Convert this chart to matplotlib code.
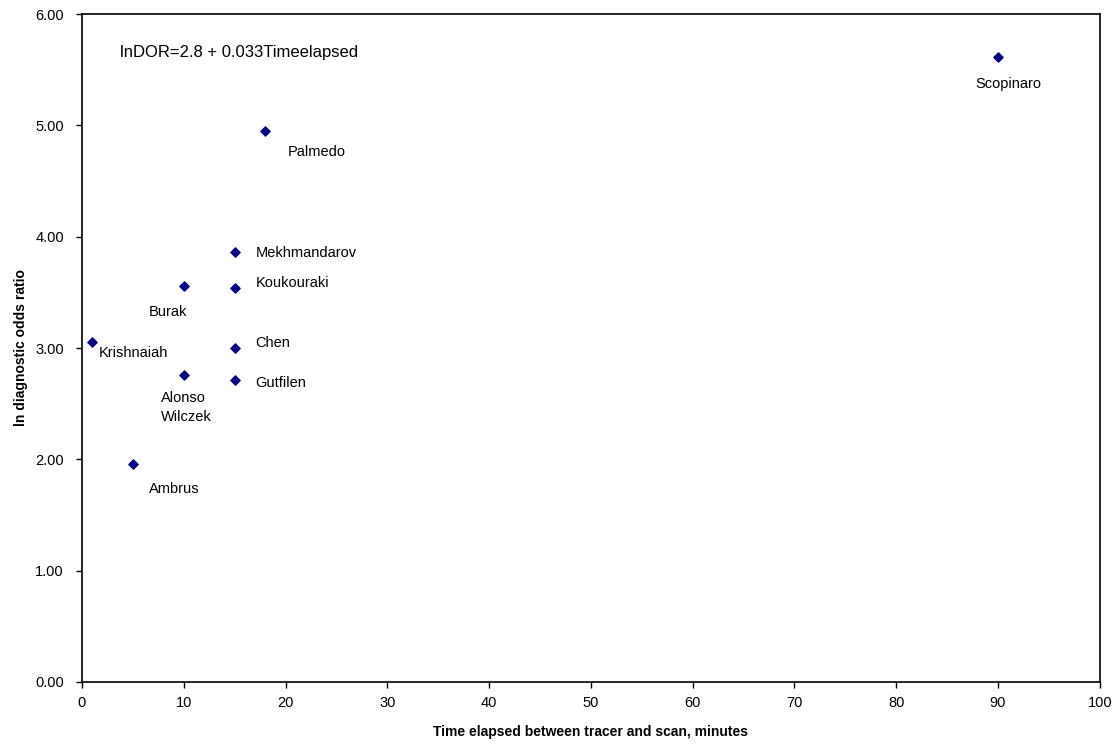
import matplotlib
matplotlib.use("Agg")
import matplotlib.pyplot as plt

plt.rcParams['font.family'] = ['Liberation Sans', 'DejaVu Sans']

# study data
studies = ['Scopinaro', 'Palmedo', 'Mekhmandarov', 'Koukouraki', 'Burak', 'Krishnaiah',
           'Chen', 'Alonso\nWilczek', 'Gutfilen', 'Ambrus']
time_min = [90, 18, 15, 15, 10, 1, 15, 10, 15, 5]
ln_dor = [5.61, 4.95, 3.86, 3.54, 3.56, 3.05, 3.00, 2.76, 2.71, 1.96]

# label offsets in pixels (dx, dy)
offsets = {
    'Scopinaro': (-23, -27),
    'Palmedo': (23, -21),
    'Mekhmandarov': (21, -1),
    'Koukouraki': (21, 5),
    'Burak': (-35, -26),
    'Krishnaiah': (7, -11),
    'Chen': (21, 5),
    'Alonso\nWilczek': (-23, -33),
    'Gutfilen': (21, -3),
    'Ambrus': (16, -25),
}

fig = plt.figure(figsize=(11.2, 7.5), dpi=100)
ax = fig.add_axes([0.0732, 0.0907, 0.9088, 0.8906])

ax.scatter(time_min, ln_dor, marker='D', s=22, color='#000080', zorder=3)

for name, x, y in zip(studies, time_min, ln_dor):
    dx, dy = offsets[name]
    ax.annotate(name, (x, y), xytext=(dx, dy), textcoords='offset pixels',
                ha='left', va='center', fontsize=10.5, linespacing=1.45)

ax.text(0.037, 0.942, 'lnDOR=2.8 + 0.033Timeelapsed', transform=ax.transAxes,
        fontsize=12, ha='left', va='center')

ax.set_xlim(0, 100)
ax.set_ylim(0, 6)
ax.set_xticks(range(0, 101, 10))
ax.set_yticks([0, 1, 2, 3, 4, 5, 6])
ax.set_yticklabels(['%.2f' % v for v in [0, 1, 2, 3, 4, 5, 6]])
ax.tick_params(direction='out', length=4, labelsize=10.5, width=1)
ax.tick_params(axis='y', pad=9)
ax.tick_params(axis='x', pad=6)
for sp in ax.spines.values():
    sp.set_linewidth(1.2)

ax.set_xlabel('Time elapsed between tracer and scan, minutes', fontweight='bold',
              fontsize=10, labelpad=11)
ax.set_ylabel('ln diagnostic odds ratio', fontweight='bold', fontsize=10, labelpad=5)

fig.savefig('out.png', dpi=100)
